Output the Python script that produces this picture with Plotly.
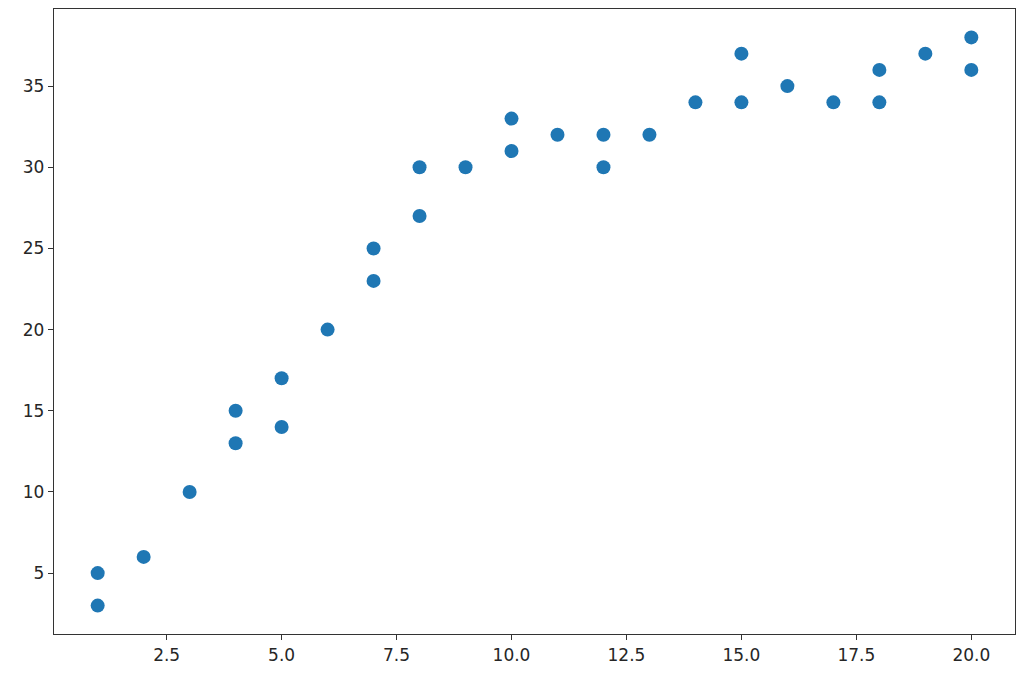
import plotly.graph_objects as go

x_vals = [1, 1, 2, 3, 4, 4, 5, 5, 6, 7, 7, 8, 8, 9, 10, 10, 11, 12, 12, 13,
          14, 15, 15, 16, 17, 18, 18, 19, 20, 20]
y_vals = [5, 3, 6, 10, 15, 13, 17, 14, 20, 25, 23, 30, 27, 30, 33, 31, 32, 32, 30, 32,
          34, 37, 34, 35, 34, 36, 34, 37, 38, 36]

x_ticks = [2.5, 5.0, 7.5, 10.0, 12.5, 15.0, 17.5, 20.0]
y_ticks = [5, 10, 15, 20, 25, 30, 35]

fig = go.Figure(go.Scatter(
    x=x_vals, y=y_vals, mode="markers",
    marker=dict(size=14, color="#1f77b4"),
))

axis_style = dict(
    showgrid=False, zeroline=False, showline=True, mirror=True,
    linecolor="#333333", linewidth=1.3,
    ticks="outside", ticklen=5, tickcolor="#333333",
    tickfont=dict(family="DejaVu Sans", size=17, color="#262626"),
)

fig.update_xaxes(range=[0.05, 20.95], tickvals=x_ticks,
                 ticktext=[f"{v:.1f}" for v in x_ticks], **axis_style)
fig.update_yaxes(range=[1.25, 39.75], tickvals=y_ticks, **axis_style)

# page body adds 8px on every side, so the figure is sized to fit the window
fig.update_layout(
    width=1008, height=658,
    margin=dict(l=46, r=1, t=1, b=32),
    plot_bgcolor="white", paper_bgcolor="white",
    showlegend=False,
)

fig.write_html("out.html")
